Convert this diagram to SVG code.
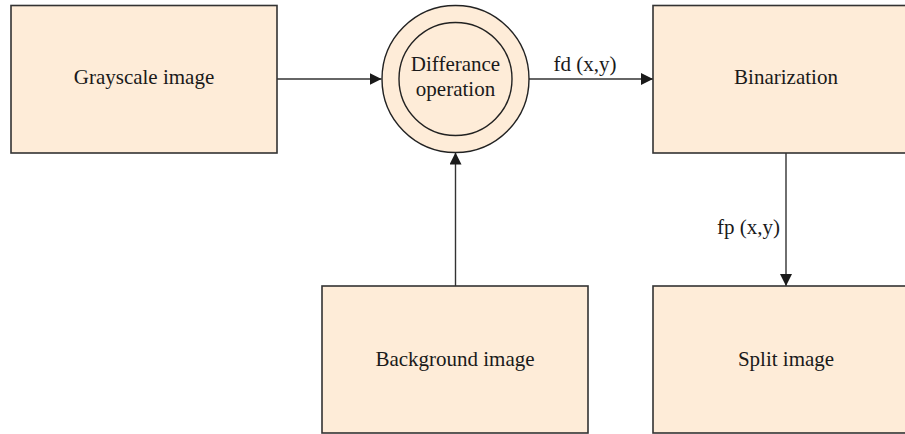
<svg xmlns="http://www.w3.org/2000/svg" width="905" height="434" viewBox="0 0 905 434">
  <style>
    .box { fill: #feecd8; stroke: #333333; stroke-width: 1.6; }
    .ring { fill: #feecd8; stroke: #222222; stroke-width: 1.4; }
    .lbl { font-family: "Liberation Serif", "Times New Roman", serif; font-size: 21px; fill: #1a1a1a; text-anchor: middle; }
    .end { text-anchor: end; }
    .edge { stroke: #333333; stroke-width: 1.4; fill: none; marker-end: url(#tri); }
  </style>
  <defs>
    <!-- solid arrowhead shared by all connectors -->
    <marker id="tri" viewBox="0 0 10 10" refX="10" refY="5" markerWidth="12" markerHeight="12" markerUnits="userSpaceOnUse" orient="auto">
      <path d="M0,0 L10,5 L0,10 Z" fill="#1a1a1a"/>
    </marker>
  </defs>

  <rect width="905" height="434" fill="#ffffff"/>

  <g id="connectors">
    <line class="edge" x1="277" y1="79" x2="381.5" y2="79"/>
    <line class="edge" x1="529" y1="79" x2="653" y2="79"/>
    <line class="edge" x1="455.5" y1="286" x2="455.5" y2="152.5"/>
    <line class="edge" x1="786" y1="153" x2="786" y2="286"/>
    <text class="lbl" x="585" y="71">fd (x,y)</text>
    <text class="lbl end" x="780" y="234">fp (x,y)</text>
  </g>

  <g id="grayscale">
    <rect class="box" x="11" y="5.5" width="266" height="147.5"/>
    <text class="lbl" x="144" y="84">Grayscale image</text>
  </g>

  <g id="difference">
    <circle class="ring" cx="455.5" cy="79" r="73.5"/>
    <circle class="ring" cx="455.5" cy="79" r="56.5"/>
    <text class="lbl" x="455.5" y="71">Differance</text>
    <text class="lbl" x="455.5" y="96">operation</text>
  </g>

  <g id="binarization">
    <rect class="box" x="653" y="5.5" width="266" height="147.5"/>
    <text class="lbl" x="786" y="84">Binarization</text>
  </g>

  <g id="background">
    <rect class="box" x="322" y="286" width="266" height="147"/>
    <text class="lbl" x="455" y="366">Background image</text>
  </g>

  <g id="split">
    <rect class="box" x="653" y="286" width="266" height="147"/>
    <text class="lbl" x="786" y="366">Split image</text>
  </g>
</svg>
